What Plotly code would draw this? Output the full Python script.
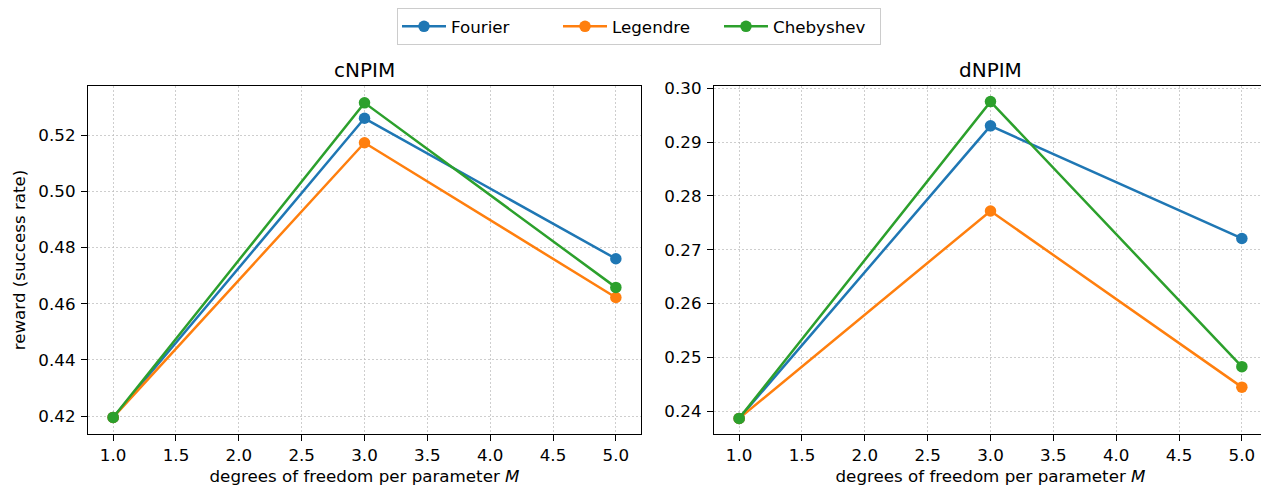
import plotly.graph_objects as go

x_vals = [1.0, 3.0, 5.0]
series_names = ["Fourier", "Legendre", "Chebyshev"]
colors = ["#1f77b4", "#ff7f0e", "#2ca02c"]

cnpim_fourier = [0.4195, 0.5260, 0.4760]
cnpim_legendre = [0.4195, 0.5173, 0.4622]
cnpim_chebyshev = [0.4195, 0.5315, 0.4658]

dnpim_fourier = [0.2387, 0.2930, 0.2721]
dnpim_legendre = [0.2387, 0.2772, 0.2445]
dnpim_chebyshev = [0.2387, 0.2975, 0.2483]

x_ticks = [1.0, 1.5, 2.0, 2.5, 3.0, 3.5, 4.0, 4.5, 5.0]
left_yticks = [0.42, 0.44, 0.46, 0.48, 0.50, 0.52]
right_yticks = [0.24, 0.25, 0.26, 0.27, 0.28, 0.29, 0.30]

# the page body adds an 8px offset; size the figure so it fills the 1269x486 window
OFF = 8
W, H = 1269 - OFF, 486 - OFF
FONT = "DejaVu Sans"
FS = 16.7


def px_x(p):
    return (p - OFF) / W


def px_y(p):
    return 1 - (p - OFF) / H


fig = go.Figure()
left = [cnpim_fourier, cnpim_legendre, cnpim_chebyshev]
right = [dnpim_fourier, dnpim_legendre, dnpim_chebyshev]
for i, name in enumerate(series_names):
    fig.add_trace(go.Scatter(x=x_vals, y=left[i], mode="lines+markers", name=name,
                             line=dict(color=colors[i], width=2.5),
                             marker=dict(color=colors[i], size=11.5),
                             xaxis="x", yaxis="y", legendgroup=name, cliponaxis=False))
for i, name in enumerate(series_names):
    fig.add_trace(go.Scatter(x=x_vals, y=right[i], mode="lines+markers", name=name,
                             line=dict(color=colors[i], width=2.5),
                             marker=dict(color=colors[i], size=11.5),
                             xaxis="x2", yaxis="y2", legendgroup=name, showlegend=False, cliponaxis=False))

ydom = [px_y(434), px_y(86)]
axis_common = dict(showline=True, linecolor="black", linewidth=1.3, mirror=True,
                   ticks="outside", ticklen=6, tickcolor="black", tickwidth=1.3,
                   showgrid=True, gridcolor="rgba(190,190,190,0.75)", griddash="1.5px,2.5px", gridwidth=1,
                   zeroline=False, automargin=False,
                   tickfont=dict(family=FONT, size=FS, color="black"))

fig.update_layout(
    width=W, height=H,
    margin=dict(l=0, r=0, t=0, b=0),
    paper_bgcolor="white", plot_bgcolor="white",
    font=dict(family=FONT, color="black"),
    xaxis=dict(domain=[px_x(88), px_x(641)], range=[0.8, 5.2], tickvals=x_ticks,
               ticktext=[f"{v:.1f}" for v in x_ticks], anchor="y",
               title=dict(text="degrees of freedom per parameter <i>M</i>", font=dict(family=FONT, size=FS), standoff=9),
               **axis_common),
    yaxis=dict(domain=ydom, range=[0.4136, 0.5375], tickvals=left_yticks,
               ticktext=[f"{v:.2f}" for v in left_yticks], anchor="x",
               title=dict(text="reward (success rate)", font=dict(family=FONT, size=FS), standoff=8),
               ticklabelstandoff=2,
               **axis_common),
    xaxis2=dict(domain=[px_x(714), px_x(1267)], range=[0.8, 5.2], tickvals=x_ticks,
                ticktext=[f"{v:.1f}" for v in x_ticks], anchor="y2",
                title=dict(text="degrees of freedom per parameter <i>M</i>", font=dict(family=FONT, size=FS), standoff=9),
                **axis_common),
    yaxis2=dict(domain=ydom, range=[0.2358, 0.3004], tickvals=right_yticks,
                ticktext=[f"{v:.2f}" for v in right_yticks], anchor="x2",
                ticklabelstandoff=2,
                **axis_common),
    legend=dict(orientation="h", x=px_x(639), xanchor="center", y=1, yanchor="top",
                bordercolor="#cccccc", borderwidth=1, bgcolor="white",
                font=dict(family=FONT, size=FS), itemwidth=44, tracegroupgap=0,
                entrywidth=102, entrywidthmode="pixels"),
    annotations=[
        dict(text="cNPIM", x=px_x((88 + 641) / 2), y=px_y(70), xref="paper", yref="paper",
             showarrow=False, font=dict(family=FONT, size=20), xanchor="center", yanchor="middle"),
        dict(text="dNPIM", x=px_x((714 + 1267) / 2), y=px_y(70), xref="paper", yref="paper",
             showarrow=False, font=dict(family=FONT, size=20), xanchor="center", yanchor="middle"),
    ],
)

fig.write_html("out.html")
